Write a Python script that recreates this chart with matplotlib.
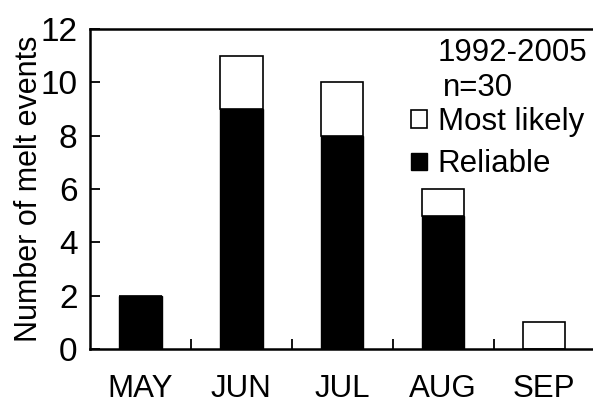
import matplotlib
matplotlib.use("Agg")
import matplotlib.pyplot as plt
import numpy as np

plt.rcParams['font.family'] = ['Liberation Sans', 'DejaVu Sans']

months = ["MAY", "JUN", "JUL", "AUG", "SEP"]
reliable = [2, 9, 8, 5, 0]
most_likely = [0, 2, 2, 1, 1]

fig = plt.figure(figsize=(5.93, 4.05), dpi=100)
ax = fig.add_axes([90 / 593, 56 / 405, 504.5 / 593, 320 / 405])

x = np.arange(len(months))
w = 0.42
b1 = ax.bar(x, reliable, w, color="black", edgecolor="black", linewidth=1.0,
            label="Reliable")
b2 = ax.bar(x, most_likely, w, bottom=reliable, color="white",
            edgecolor="black", linewidth=1.2, label="Most likely")

ax.set_xlim(-0.5, len(months) - 0.5)
ax.set_ylim(0, 12)
ax.set_yticks(np.arange(0, 13, 2))
ax.set_xticks(x)
ax.set_xticklabels(months)
ax.set_xticks(x[:-1] + 0.5, minor=True)

for s in ax.spines.values():
    s.set_linewidth(1.8)

ax.tick_params(axis="y", direction="in", length=7, width=1.3, labelsize=24, pad=9)
ax.tick_params(axis="x", which="major", length=0, labelsize=22.5, pad=18)
ax.tick_params(axis="x", which="minor", direction="in", length=7, width=1.3)

ax.set_ylabel("Number of melt events", fontsize=22)
ax.yaxis.set_label_coords(-0.092, 0.5)

fig.text(438 / 593, 1 - 53 / 405, "1992-2005", fontsize=22.5, ha="left", va="center")
fig.text(443 / 593, 1 - 88 / 405, "n=30", fontsize=22.5, ha="left", va="center")

ax.legend([b2, b1], ["Most likely", "Reliable"], loc="upper left",
          bbox_to_anchor=(411 / 593, 1 - 107 / 405), bbox_transform=fig.transFigure,
          frameon=False, fontsize=22.5, handlelength=0.5, handleheight=0.5,
          handletextpad=0.35, labelspacing=0.4, borderpad=0, borderaxespad=0)

fig.savefig("out.png", dpi=100)
